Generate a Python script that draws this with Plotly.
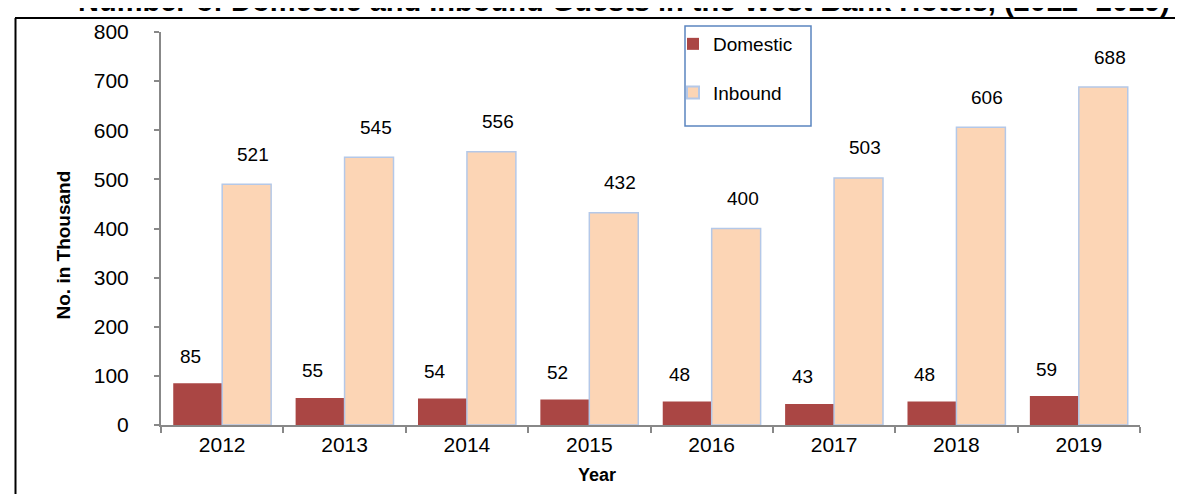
import plotly.graph_objects as go

years = ["2012", "2013", "2014", "2015", "2016", "2017", "2018", "2019"]
domestic = [85, 55, 54, 52, 48, 43, 48, 59]
inbound_bars = [490, 545, 556, 432, 400, 503, 606, 688]
domestic_labels = [85, 55, 54, 52, 48, 43, 48, 59]
inbound_labels = [521, 545, 556, 432, 400, 503, 606, 688]
y_ticks = [0, 100, 200, 300, 400, 500, 600, 700, 800]

W, H = 1183, 494
ML, MR, MT, MB = 153, 51, 24, 77
PW, PH = W - ML - MR, H - MT - MB
FONT = "Liberation Sans, Arial, sans-serif"


def px_x(p):
    return (p - ML) / PW


def px_y(p):
    return 1 - (p - MT) / PH


fig = go.Figure()
fig.add_trace(go.Bar(
    x=years, y=domestic, name="Domestic",
    marker=dict(color="#aa4644", line=dict(width=0)),
    legendgroup="d",
))
fig.add_trace(go.Bar(
    x=years, y=inbound_bars, name="Inbound",
    marker=dict(color="#fcd5b5", line=dict(color="#b4c8e8", width=1.5)),
    legendgroup="i",
))

annotations = []
for i, (v, lab) in enumerate(zip(domestic, domestic_labels)):
    annotations.append(dict(x=i, y=v, xref="x", yref="y", text=str(lab), showarrow=False,
                            xshift=-32, yshift=27, yanchor="middle",
                            font=dict(size=19, color="black", family=FONT)))
for i, (v, lab) in enumerate(zip(inbound_bars, inbound_labels)):
    annotations.append(dict(x=i, y=v, xref="x", yref="y", text=str(lab), showarrow=False,
                            xshift=31, yshift=30, yanchor="middle",
                            font=dict(size=19, color="black", family=FONT)))

# title (partly cut off at top, as in reference)
annotations.append(dict(
    xref="paper", yref="paper", x=px_x(616), y=px_y(11), yanchor="bottom",
    xanchor="center", showarrow=False,
    text="<b>Number of Domestic and Inbound Guests in the West Bank Hotels, (2012- 2019)</b>",
    font=dict(size=29, color="black", family=FONT)))
# axis titles
annotations.append(dict(
    xref="paper", yref="paper", x=px_x(589), y=px_y(479), showarrow=False,
    text="<b>Year</b>", font=dict(size=18, color="black", family=FONT)))
annotations.append(dict(
    xref="paper", yref="paper", x=px_x(42), y=px_y(237), showarrow=False,
    textangle=-90, text="<b>No. in Thousand</b>",
    font=dict(size=19, color="black", family=FONT)))

shapes = [
    # outer frame
    dict(type="line", xref="paper", yref="paper", x0=px_x(7.5), x1=px_x(7.5),
         y0=px_y(10), y1=px_y(500), line=dict(color="black", width=2)),
    dict(type="line", xref="paper", yref="paper", x0=px_x(7), x1=px_x(1190),
         y0=px_y(10), y1=px_y(10), line=dict(color="black", width=2)),
    # legend box
    dict(type="rect", xref="paper", yref="paper", x0=px_x(677), x1=px_x(803),
         y0=px_y(18), y1=px_y(118), line=dict(color="#5b85c0", width=1.5),
         fillcolor="rgba(0,0,0,0)"),
]

fig.update_layout(
    width=W, height=H,
    margin=dict(l=ML, r=MR, t=MT, b=MB, pad=0),
    paper_bgcolor="white", plot_bgcolor="white",
    barmode="group", bargap=0.2, bargroupgap=0,
    font=dict(family=FONT, size=19, color="black"),
    showlegend=True,
    legend=dict(x=px_x(665), y=px_y(17), xanchor="left", yanchor="top",
                bgcolor="rgba(0,0,0,0)", borderwidth=0,
                tracegroupgap=21, font=dict(size=19, color="black", family=FONT),
                itemsizing="constant"),
    annotations=annotations,
    shapes=shapes,
    xaxis=dict(type="category", categoryorder="array", categoryarray=years,
               range=[-0.5, len(years) - 0.5], autorange=False,
               showline=True, linecolor="#888888", linewidth=2,
               ticks="outside", tickson="boundaries", ticklen=6, tickwidth=2,
               tickcolor="#888888", showgrid=False, zeroline=False, tickangle=0,
               tickfont=dict(size=21, color="black", family=FONT)),
    yaxis=dict(range=[0, 800], autorange=False, tickvals=y_ticks, showline=True,
               linecolor="#888888", linewidth=2, ticks="outside", ticklen=5,
               tickwidth=2, tickcolor="#888888", showgrid=False, zeroline=False,
               ticklabelstandoff=21,
               tickfont=dict(size=21, color="black", family=FONT)),
)

fig.write_html("out.html")
